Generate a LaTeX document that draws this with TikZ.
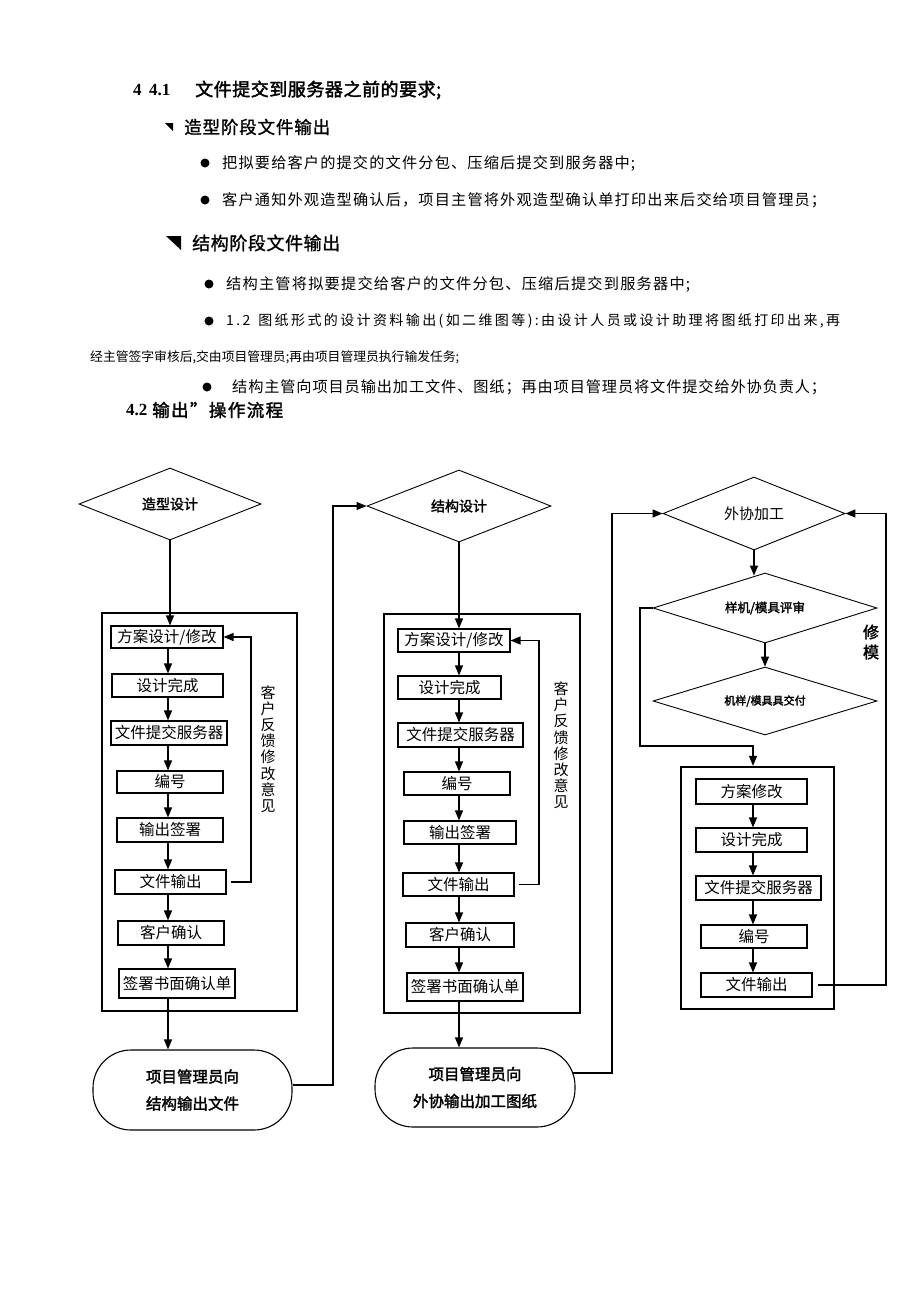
\documentclass[tikz,border=0pt]{standalone}
\usepackage{fontspec}
\setmainfont{Liberation Serif}
\newfontfamily\cjk{Noto Sans CJK SC}
\newfontfamily\cjkb[FakeBold=2]{Noto Sans CJK SC}
\newfontfamily\cjkm[FakeBold=1.2]{Noto Sans CJK SC}
\usetikzlibrary{shapes.geometric,arrows.meta,calc}
\def\spreadA#1{\ifx\relax#1\else#1\hfil\expandafter\spreadA\fi}
\newcommand\spreadline[2]{\hbox to #1pt{\spreadA#2\relax\unskip}}
\newcommand\bx[7][bx]{\node[#1, minimum width={(#5-#3)*1pt}, minimum height={(#6-#4)*1pt}] (#2) at ({(#3+#5)/2},{(#4+#6)/2}) {#7};}
\tikzset{
 bx/.style={draw, line width=1.1pt, inner sep=0pt, font=\cjk\fontsize{15.5}{15.5}\selectfont},
 outer/.style={draw, line width=2.3pt, inner sep=0pt},
 dia/.style={draw, diamond, aspect=2.5, inner sep=0pt, line width=0.9pt},
 oval/.style={draw, rounded corners=38pt, line width=1.1pt, inner sep=0pt, align=center, font=\cjkb\fontsize{15.5}{27}\selectfont},
 arr/.style={line width=1.3pt, -{Triangle[length=10pt,width=8pt]}},
 txt/.style={inner sep=0pt, anchor=west},
 vtxt/.style={inner sep=0pt, align=center, font=\cjk\fontsize{15}{16.2}\selectfont},
}
\begin{document}
\begin{tikzpicture}[x=1pt,y=-1pt]
\fill[white] (0,0) rectangle (920,1302);
\useasboundingbox (0,0) rectangle (920,1302);

% ---------- text part ----------
\node[txt, font=\fontsize{17}{17}\bfseries\selectfont] (h1a) at (133,90) {4};
\node[txt, font=\fontsize{17}{17}\bfseries\selectfont] (h1b) at (149,90) {4.1};
\node[txt, font=\cjkb\fontsize{18}{18}\selectfont] (h1c) at (195,90) {\spreadline{246}{文件提交到服务器之前的要求;}};

\fill (165,123) -- (173,123) -- (173,131) -- cycle;
\node[txt, font=\cjkm\fontsize{17.5}{17.5}\selectfont] (h2) at (184,127) {\spreadline{146}{造型阶段文件输出}};

\fill (205,163) circle[radius=4.5pt];
\node[txt, font=\cjk\fontsize{15.2}{15.2}\selectfont] (l1) at (222,163) {\spreadline{413}{把拟要给客户的提交的文件分包、压缩后提交到服务器中;}};
\fill (205,200) circle[radius=4.5pt];
\node[txt, font=\cjk\fontsize{15.2}{15.2}\selectfont] (l2) at (222,200) {\spreadline{604}{客户通知外观造型确认后，项目主管将外观造型确认单打印出来后交给项目管理员；}};

\fill (166,236) -- (181,236) -- (181,250) -- cycle;
\node[txt, font=\cjkm\fontsize{18}{18}\selectfont] (h3) at (192,243) {\spreadline{148}{结构阶段文件输出}};

\fill (209,284) circle[radius=4.5pt];
\node[txt, font=\cjk\fontsize{15.2}{15.2}\selectfont] (l3) at (226,284) {\spreadline{464}{结构主管将拟要提交给客户的文件分包、压缩后提交到服务器中;}};
\fill (209,321) circle[radius=4.5pt];
\node[txt, font=\cjk\fontsize{14}{14}\selectfont] (l4) at (226,321) {\spreadline{614}{1.2\ 图纸形式的设计资料输出(如二维图等):由设计人员或设计助理将图纸打印出来,再}};
\node[txt, font=\cjk\fontsize{12.8}{12.8}\selectfont] (l5) at (90,357) {\spreadline{362}{经主管签字审核后,交由项目管理员;再由项目管理员执行输发任务;}};
\fill (207,387) circle[radius=4.5pt];
\node[txt, font=\cjk\fontsize{15.2}{15.2}\selectfont] (l6) at (232,387) {\spreadline{594}{结构主管向项目员输出加工文件、图纸；再由项目管理员将文件提交给外协负责人；}};

\node[txt, font=\fontsize{17}{17}\bfseries\selectfont] (h4a) at (126,410) {4.2};
\node[txt, font=\cjkb\fontsize{17.5}{17.5}\selectfont] (h4b) at (152,410) {\spreadline{131}{输出”操作流程}};

% ---------- column 1 ----------
\node[dia, minimum width=182pt, minimum height=72pt, font=\cjkb\fontsize{14}{14}\selectfont] (D1) at (170,504) {造型设计};
\bx[outer]{B1}{102}{613}{297}{1011}{}
\bx{a1}{111}{626}{223}{648}{方案设计/修改}
\bx{a2}{112}{674}{223}{697}{设计完成}
\bx{a3}{111}{721}{227}{745}{文件提交服务器}
\bx{a4}{117}{771}{223}{793}{编号}
\bx{a5}{117}{818}{223}{842}{输出签署}
\bx{a6}{115}{870}{226}{894}{文件输出}
\bx{a7}{118}{921}{224}{945}{客户确认}
\bx{a8}{119}{969}{235}{998}{签署书面确认单}
\node[vtxt] (V1) at (268,749) {客\\户\\反\\馈\\修\\改\\意\\见};
\node[oval, minimum width=199pt, minimum height=80pt] (O1) at (192.5,1090) {项目管理员向\\结构输出文件};
\coordinate (X1) at (168,0);
\coordinate (F1) at (251,0);
\coordinate (C1) at (333,0);
\draw[arr] (D1.south) -- (D1.south |- a1.north);
\foreach \p/\q in {a1/a2,a2/a3,a3/a4,a4/a5,a5/a6,a6/a7,a7/a8}
  \draw[arr] (\p.south -| X1) -- (\q.north -| X1);
\draw[arr] ([xshift=4pt]a6.east) -- (a6.east -| F1) -- (a1.east -| F1) -- (a1.east);
\draw[arr] (a8.south -| X1) -- (O1.north -| X1);

% ---------- column 2 ----------
\node[dia, minimum width=184pt, minimum height=72pt, font=\cjkb\fontsize{14}{14}\selectfont] (D2) at (459,506) {结构设计};
\bx[outer]{B2}{384}{614}{580}{1013}{}
\bx{b1}{398}{629}{510}{652}{方案设计/修改}
\bx{b2}{398}{676}{501}{699}{设计完成}
\bx{b3}{398}{723}{523}{747}{文件提交服务器}
\bx{b4}{404}{772}{510}{795}{编号}
\bx{b5}{404}{821}{516}{844}{输出签署}
\bx{b6}{403}{873}{514}{896}{文件输出}
\bx{b7}{406}{923}{514}{947}{客户确认}
\bx{b8}{407}{973}{523}{1001}{签署书面确认单}
\node[vtxt] (V2) at (561,745.5) {客\\户\\反\\馈\\修\\改\\意\\见};
\node[oval, minimum width=200pt, minimum height=79pt] (O2) at (475,1087.5) {项目管理员向\\外协输出加工图纸};
\coordinate (X2) at (459,0);
\coordinate (F2) at (539,0);
\coordinate (C2) at (612,0);
\draw[arr] (D2.south) -- (D2.south |- b1.north);
\foreach \p/\q in {b1/b2,b2/b3,b3/b4,b4/b5,b5/b6,b6/b7,b7/b8}
  \draw[arr] (\p.south -| X2) -- (\q.north -| X2);
\draw[arr] ([xshift=4pt]b6.east) -- (b6.east -| F2) -- (b1.east -| F2) -- (b1.east);
\draw[arr] (b8.south -| X2) -- (O2.north -| X2);
\draw[arr] ([yshift=5pt]O1.east) -- ([yshift=5pt]O1.east -| C1) -- (D2.west -| C1) -- (D2.west);

% ---------- column 3 ----------
\node[dia, minimum width=182pt, minimum height=73pt, font=\cjk\fontsize{15}{15}\selectfont] (D3) at (754,513.5) {外协加工};
\node[dia, minimum width=224pt, minimum height=70pt, font=\cjkb\fontsize{12.5}{12.5}\selectfont] (D4) at (765,608) {样机/模具评审};
\node[dia, minimum width=224pt, minimum height=68pt, font=\cjkb\fontsize{11}{11}\selectfont] (D5) at (765,701) {机样/模具具交付};
\bx[outer]{B3}{681}{767}{834}{1009}{}
\bx{c1}{696}{779}{807}{804}{方案修改}
\bx{c2}{696}{828}{807}{852}{设计完成}
\bx{c3}{696}{876}{821}{900}{文件提交服务器}
\bx{c4}{701}{925}{807}{948}{编号}
\bx{c5}{701}{973}{812}{997}{文件输出}
\node[inner sep=0pt, align=center, font=\cjkb\fontsize{16}{20}\selectfont] (V3) at (871,642) {修\\模};
\coordinate (X3) at (753,0);
\coordinate (L3) at (640,746);
\coordinate (R3) at (886,0);
\coordinate (o2s) at ([yshift=14.5pt,xshift=-2.8pt]O2.east);
\draw[arr] (o2s) -- (o2s -| C2) -- (D3.west -| C2) -- (D3.west);
\draw[arr] (D3.south) -- ([yshift=-3pt]D3.south |- D4.north);
\draw[arr] (D4.south) -- (D5.north);
\draw[arr] (D4.west) -- (D4.west -| L3) -- (L3) -- (L3 -| X3) -- (B3.north -| X3);
\foreach \p/\q in {c1/c2,c2/c3,c3/c4,c4/c5}
  \draw[arr] (\p.south -| X3) -- (\q.north -| X3);
\draw[arr] ([xshift=5pt]c5.east) -- (c5.east -| R3) -- (D3.east -| R3) -- (D3.east);
\end{tikzpicture}
\end{document}
